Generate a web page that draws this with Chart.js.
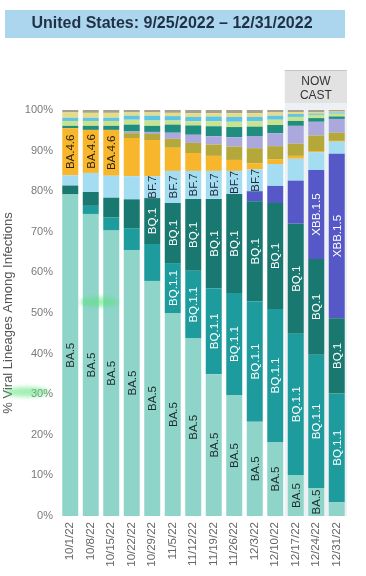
<!DOCTYPE html>
<html>
<head>
<meta charset="utf-8">
<script src="https://cdn.jsdelivr.net/npm/chart.js@4/dist/chart.umd.min.js"></script>
<style>
  html, body { margin: 0; padding: 0; background: #fff; }
  canvas { display: block; }
</style>
</head>
<body>
<canvas id="chart" width="366" height="576"></canvas>
<script>
// week ending dates
const weeks = ['10/1/22', '10/8/22', '10/15/22', '10/22/22', '10/29/22', '11/5/22', '11/12/22',
  '11/19/22', '11/26/22', '12/3/22', '12/10/22', '12/17/22', '12/24/22', '12/31/22'];

// lineage shares (%), bottom of the stack first
const ba5     = [79.2, 74.4, 70.3, 65.5, 57.9, 50.0, 43.7, 34.9, 29.8, 23.2, 18.2, 10.1, 6.9, 3.4];
const bq11    = [0, 2.0, 3.2, 5.4, 9.1, 12.3, 16.7, 21.2, 25.1, 29.7, 32.8, 34.8, 32.8, 26.8];
const bq1     = [2.2, 3.4, 4.9, 7.1, 11.3, 14.8, 17.7, 22.0, 24.4, 24.6, 26.1, 27.1, 23.6, 18.5];
const xbb15   = [0, 0, 0, 0, 0, 0, 0, 0, 0, 2.5, 4.2, 10.6, 21.9, 40.5];
const bf7     = [2.5, 4.7, 5.4, 5.7, 5.4, 7.9, 6.9, 6.9, 5.7, 5.4, 5.4, 5.4, 4.4, 3.0];
const ba46    = [11.6, 10.6, 11.3, 9.4, 8.9, 5.7, 4.4, 3.7, 2.7, 1.5, 1.2, 0.7, 0.3, 0.2];
const bn1     = [0, 0, 0, 1.2, 1.5, 2.2, 2.5, 2.8, 3.3, 3.7, 3.2, 3.0, 3.8, 2.0];
const xbb     = [0, 0, 0, 0.4, 0.5, 1.5, 2.0, 2.0, 2.3, 3.0, 3.2, 4.4, 3.4, 3.4];
const ba275   = [0.6, 1.0, 1.0, 1.7, 1.5, 2.0, 2.3, 2.5, 2.5, 2.3, 2.0, 1.2, 0.9, 0.6];
const ba2752  = [1.2, 1.2, 1.2, 1.2, 1.3, 1.0, 1.0, 1.2, 1.3, 1.3, 1.3, 1.0, 0.8, 0.7];
const ba526   = [0.8, 0.8, 0.8, 1.0, 1.2, 1.1, 1.1, 1.2, 1.2, 1.1, 1.0, 0.7, 0.3, 0.3];
const bf11    = [1.3, 1.2, 1.2, 0.8, 0.8, 0.8, 0.9, 0.8, 0.9, 0.9, 0.8, 0.5, 0.3, 0.2];
const other   = [0.6, 0.7, 0.7, 0.6, 0.6, 0.8, 0.8, 0.8, 0.8, 0.8, 0.6, 0.5, 0.6, 0.4];

const yTicks = [0, 10, 20, 30, 40, 50, 60, 70, 80, 90, 100];

// which weeks carry an in-bar label
const labelAt = {
  'BA.5': [0, 1, 2, 3, 4, 5, 6, 7, 8, 9, 10, 11, 12],
  'BQ.1.1': [5, 6, 7, 8, 9, 10, 11, 12, 13],
  'BQ.1': [4, 5, 6, 7, 8, 9, 10, 11, 12, 13],
  'XBB.1.5': [12, 13],
  'BF.7': [4, 5, 6, 7, 8, 9],
  'BA.4.6': [0, 1, 2]
};

const series = [
  { label: 'BA.5', data: ba5, color: '#8fd4c9', text: '#1d2a2a' },
  { label: 'BQ.1.1', data: bq11, color: '#1e9c9d', text: '#ffffff' },
  { label: 'BQ.1', data: bq1, color: '#19786f', text: '#ffffff' },
  { label: 'XBB.1.5', data: xbb15, color: '#5558c6', text: '#ffffff' },
  { label: 'BF.7', data: bf7, color: '#a4dcf2', text: '#1d2a35' },
  { label: 'BA.4.6', data: ba46, color: '#f7b62c', text: '#2a2210' },
  { label: 'BN.1', data: bn1, color: '#b5a83a' },
  { label: 'XBB', data: xbb, color: '#aaa8dc' },
  { label: 'BA.2.75', data: ba275, color: '#1f8e7e' },
  { label: 'BA.2.75.2', data: ba2752, color: '#c8e28d' },
  { label: 'BA.5.2.6', data: ba526, color: '#5cc4e4' },
  { label: 'BF.11', data: bf11, color: '#e6dc86' },
  { label: 'Other', data: other, color: '#a7a190' }
];

Chart.defaults.font.family = '"Liberation Sans", Arial, sans-serif';

const frame = {
  id: 'frame',
  beforeDraw(chart) {
    const ctx = chart.ctx;
    const area = chart.chartArea;
    ctx.save();
    ctx.fillStyle = '#ffffff';
    ctx.fillRect(0, 0, chart.width, chart.height);

    // title banner
    ctx.fillStyle = '#acd5ee';
    ctx.fillRect(5, 10, 340, 28);
    ctx.fillStyle = '#1f3146';
    ctx.font = 'bold 16px "Liberation Sans", Arial, sans-serif';
    ctx.textAlign = 'center';
    ctx.textBaseline = 'middle';
    ctx.fillText('United States: 9/25/2022 \u2013 12/31/2022', 172, 24);

    // nowcast shading over the last three weeks
    const meta = chart.getDatasetMeta(0);
    const first = meta.data[11];
    const x0 = first.x - first.width / 2 - 3;
    const x1 = area.right;
    ctx.fillStyle = '#eef1f4';
    ctx.fillRect(x0, 102, x1 - x0, area.bottom - 102);
    ctx.fillStyle = '#e2e2e2';
    ctx.fillRect(x0, 70, x1 - x0, 33);
    ctx.fillStyle = '#c4c4c4';
    ctx.fillRect(x0, 70, x1 - x0, 1);
    ctx.fillStyle = '#333333';
    ctx.font = '12px "Liberation Sans", Arial, sans-serif';
    ctx.fillText('NOW', (x0 + x1) / 2, 82);
    ctx.fillText('CAST', (x0 + x1) / 2, 96);
    ctx.restore();
  },
  afterDatasetsDraw(chart) {
    const ctx = chart.ctx;
    ctx.save();
    ctx.font = '11.5px "Liberation Sans", Arial, sans-serif';
    ctx.textAlign = 'center';
    ctx.textBaseline = 'middle';
    series.forEach((s, i) => {
      const idx = labelAt[s.label];
      if (!idx) return;
      const meta = chart.getDatasetMeta(i);
      idx.forEach(j => {
        const bar = meta.data[j];
        const cy = (bar.y + bar.base) / 2;
        ctx.save();
        ctx.translate(bar.x, cy);
        ctx.rotate(-Math.PI / 2);
        ctx.fillStyle = s.text;
        ctx.fillText(s.label, 0, 1);
        ctx.restore();
      });
    });
    ctx.restore();
  },
  afterDraw(chart) {
    // highlighter marks on the scan
    const ctx = chart.ctx;
    ctx.save();
    ctx.filter = 'blur(2px)';
    ctx.fillStyle = 'rgba(90, 225, 120, 0.55)';
    ctx.beginPath();
    ctx.ellipse(99, 302, 19, 5, 0, 0, Math.PI * 2);
    ctx.fill();
    ctx.beginPath();
    ctx.ellipse(27, 392, 22, 5, 0, 0, Math.PI * 2);
    ctx.fill();
    ctx.restore();
  }
};

new Chart(document.getElementById('chart'), {
  type: 'bar',
  data: {
    labels: weeks,
    datasets: series.map(s => ({
      label: s.label,
      data: s.data,
      backgroundColor: s.color,
      borderWidth: 0,
      barPercentage: 0.78,
      categoryPercentage: 1
    }))
  },
  options: {
    responsive: false,
    animation: false,
    layout: { padding: { top: 110, right: 19, left: 0, bottom: 0 } },
    plugins: {
      legend: { display: false },
      tooltip: { enabled: false }
    },
    scales: {
      x: {
        stacked: true,
        grid: { display: false, drawTicks: false },
        border: { display: false },
        ticks: {
          autoSkip: false,
          minRotation: 90,
          maxRotation: 90,
          padding: 6,
          color: '#666',
          font: { size: 11.5 }
        },
        afterFit(scale) { scale.height = 60; }
      },
      y: {
        stacked: true,
        min: 0,
        max: 100,
        grid: { display: false, drawTicks: false },
        border: { display: false },
        afterBuildTicks(scale) { scale.ticks = yTicks.map(v => ({ value: v })); },
        ticks: {
          padding: 7,
          color: '#7a7a7a',
          font: { size: 11 },
          callback: v => v + '%'
        },
        title: {
          display: true,
          text: '% Viral Lineages Among Infections',
          color: '#555',
          font: { size: 13 },
          padding: { top: 1, bottom: 0 }
        },
        afterFit(scale) { scale.width = 60; }
      }
    }
  },
  plugins: [frame]
});
</script>
</body>
</html>
